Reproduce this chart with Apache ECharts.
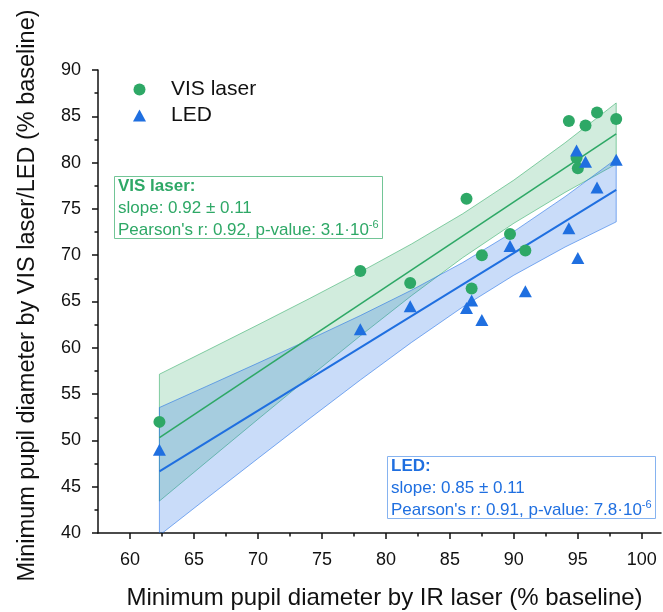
<!DOCTYPE html>
<html>
<head>
<meta charset="utf-8">
<script src="https://cdn.jsdelivr.net/npm/echarts@6/dist/echarts.min.js"></script>
<style>
  html, body { margin: 0; padding: 0; background: #fff; }
  #chart { width: 663px; height: 612px; }
</style>
</head>
<body>
<div id="chart"></div>
<script>
// 每位受试者的最小瞳孔直径（% baseline）
const irLaser  = [62.3, 78.0, 81.9, 86.3, 86.7, 87.5, 89.7, 90.9, 94.3, 94.9, 95.0, 95.6, 96.5, 98.0];
const visLaser = [52.0, 68.3, 67.0, 76.1, 66.4, 70.0, 72.3, 70.5, 84.5, 80.5, 79.4, 84.0, 85.4, 84.7];
const led      = [49.0, 62.0, 64.5, 64.3, 65.1, 63.0, 71.0, 66.1, 72.9, 81.3, 69.7, 80.1, 77.3, 80.3];

// 拟合直线端点
const fitX   = [62.3, 98.0];
const visFit = [50.3, 83.1];
const ledFit = [46.65, 77.05];

// 置信带上下沿
const bandX    = [62.3, 66, 70, 74, 78, 82, 86, 90, 94, 98];
const visUpper = [57.15, 59.70, 62.48, 65.30, 68.19, 71.21, 74.47, 78.11, 82.14, 86.44];
const visLower = [43.45, 47.70, 52.28, 56.82, 61.29, 65.63, 69.73, 73.45, 76.78, 79.84];
const ledUpper = [53.55, 55.85, 58.35, 60.88, 63.48, 66.22, 69.20, 72.56, 76.32, 80.40];
const ledLower = [39.75, 43.75, 48.05, 52.32, 56.52, 60.58, 64.40, 67.84, 70.88, 73.60];

// 刻度
const xTicks      = [60, 65, 70, 75, 80, 85, 90, 95, 100];
const xMinorTicks = [62.5, 67.5, 72.5, 77.5, 82.5, 87.5, 92.5, 97.5];

const GREEN = '#2ea866';
const BLUE = '#1f6fe0';
const FONT = 'Liberation Sans, Arial, sans-serif';

const chart = echarts.init(document.getElementById('chart'));

function bandItem(upper, lower, fill, stroke) {
  return (params, api) => {
    const pts = bandX.map((x, i) => api.coord([x, upper[i]]));
    for (let i = bandX.length - 1; i >= 0; i--) pts.push(api.coord([bandX[i], lower[i]]));
    return { type: 'polygon', shape: { points: pts }, style: { fill, stroke, lineWidth: 0.8 } };
  };
}

const boxRich = (color) => ({
  h: { fontFamily: FONT, fontSize: 17, fontWeight: 'bold', color, lineHeight: 22 },
  t: { fontFamily: FONT, fontSize: 17, fontWeight: 'normal', color, lineHeight: 22 },
  s: { fontFamily: FONT, fontSize: 11, fontWeight: 'normal', color, lineHeight: 12, verticalAlign: 'top' }
});

const option = {
  animation: false,
  backgroundColor: '#fff',
  textStyle: { fontFamily: FONT },
  grid: { left: 98, right: 2, top: 70, bottom: 79, containLabel: false, outerBoundsMode: 'none' },
  legend: {
    data: ['VIS laser', 'LED'],
    orient: 'vertical',
    left: 133, top: 79, padding: 0,
    itemWidth: 13, itemHeight: 12, itemGap: 5,
    formatter: name => '{g|}' + name,
    textStyle: { fontFamily: FONT, fontSize: 21, color: '#111', rich: { g: { width: 20 } } }
  },
  title: [
    {
      left: 114, top: 174,
      text: '{h|VIS laser:}\n{t|slope: 0.92 ± 0.11}\n{t|Pearson\'s r: 0.92, p-value: 3.1·10}{s|-6}',
      textStyle: { fontWeight: 'normal', rich: boxRich(GREEN) },
      borderColor: '#72c596', borderWidth: 1, padding: [1, 4, 0, 4], backgroundColor: '#fff'
    },
    {
      left: 387, top: 454,
      text: '{h|LED:}\n{t|slope: 0.85 ± 0.11}\n{t|Pearson\'s r: 0.91, p-value: 7.8·10}{s|-6}',
      textStyle: { fontWeight: 'normal', rich: boxRich(BLUE) },
      borderColor: '#86b3f0', borderWidth: 1, padding: [1, 4, 0, 4], backgroundColor: '#fff'
    }
  ],
  xAxis: [
    {
      type: 'value', min: 57.5, max: 101.5, position: 'bottom',
      name: 'Minimum pupil diameter by IR laser (% baseline)',
      nameLocation: 'middle', nameGap: 53,
      nameTextStyle: { fontFamily: FONT, fontSize: 24, color: '#111', padding: [0, 0, 0, 10] },
      axisLine: { onZero: false, lineStyle: { color: '#111', width: 1.5 } },
      axisTick: { customValues: xTicks, length: 6, lineStyle: { color: '#111', width: 1.5 } },
      axisLabel: { customValues: xTicks, margin: 18, fontFamily: FONT, fontSize: 18, color: '#111' },
      splitLine: { show: false }
    },
    {
      type: 'value', min: 57.5, max: 101.5, position: 'bottom',
      axisLine: { show: false },
      axisTick: { customValues: xMinorTicks, length: 3.5, lineStyle: { color: '#111', width: 1.5 } },
      axisLabel: { show: false },
      splitLine: { show: false }
    }
  ],
  yAxis: {
    type: 'value', min: 40, max: 90, interval: 5,
    name: 'Minimum pupil diameter by VIS laser/LED (% baseline)',
    nameLocation: 'middle', nameGap: 58,
    nameTextStyle: { fontFamily: FONT, fontSize: 23.5, color: '#111', padding: [0, 0, 0, 12] },
    axisLine: { show: true, onZero: false, lineStyle: { color: '#111', width: 1.5 } },
    axisTick: { show: true, length: 6, lineStyle: { color: '#111', width: 1.5 } },
    minorTick: { show: true, splitNumber: 2, length: 3.5, lineStyle: { color: '#111', width: 1.5 } },
    axisLabel: { margin: 17, fontFamily: FONT, fontSize: 18, color: '#111' },
    splitLine: { show: false }
  },
  series: [
    {
      type: 'custom', silent: true, clip: true, z: 1,
      data: [[bandX[0], visUpper[0]]],
      renderItem: bandItem(visUpper, visLower, 'rgba(46,170,100,0.22)', 'rgba(46,170,100,0.7)')
    },
    {
      type: 'custom', silent: true, clip: true, z: 1,
      data: [[bandX[0], ledUpper[0]]],
      renderItem: bandItem(ledUpper, ledLower, 'rgba(30,110,230,0.24)', 'rgba(30,110,230,0.7)')
    },
    {
      type: 'line', silent: true, symbol: 'none', z: 3,
      data: fitX.map((x, i) => [x, visFit[i]]),
      lineStyle: { color: GREEN, width: 1.6 }
    },
    {
      type: 'line', silent: true, symbol: 'none', z: 3,
      data: fitX.map((x, i) => [x, ledFit[i]]),
      lineStyle: { color: BLUE, width: 2 }
    },
    {
      name: 'VIS laser', type: 'scatter', symbol: 'circle', symbolSize: 12, z: 5,
      itemStyle: { color: GREEN, opacity: 1 },
      data: irLaser.map((x, i) => [x, visLaser[i]])
    },
    {
      name: 'LED', type: 'scatter', symbol: 'triangle', symbolSize: [13, 12], z: 5,
      itemStyle: { color: BLUE, opacity: 1 },
      data: irLaser.map((x, i) => [x, led[i]])
    }
  ]
};

chart.setOption(option);
</script>
</body>
</html>
